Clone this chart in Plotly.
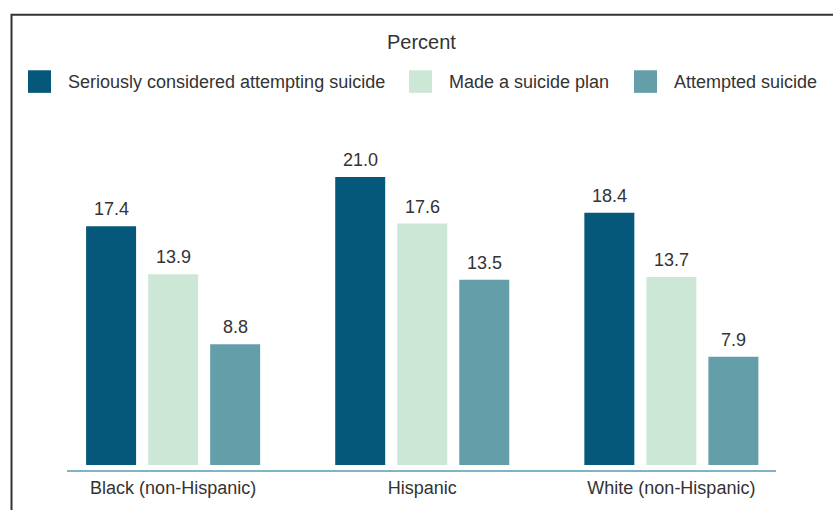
import plotly.graph_objects as go

categories = ["Black (non-Hispanic)", "Hispanic", "White (non-Hispanic)"]
series_names = ["Seriously considered attempting suicide", "Made a suicide plan", "Attempted suicide"]
considered = [17.4, 21.0, 18.4]
plan = [13.9, 17.6, 13.7]
attempted = [8.8, 13.5, 7.9]
colors = ["#06587a", "#cde7d7", "#649fa9"]

W, H = 833, 510
L, R, T, B = 67, 57, 140, 34
PW, PH = W - L - R, H - T - B

def px(x):
    return (x - L) / PW

def py(y):
    return (H - B - y) / PH

values = [considered, plan, attempted]
fig = go.Figure()
for name, vals, c in zip(series_names, values, colors):
    fig.add_trace(go.Bar(x=categories, y=vals, name=name, marker=dict(color=c, line=dict(width=0)),
                         showlegend=False, hoverinfo="x+y"))

font = dict(family="Liberation Sans, Arial, sans-serif", color="#333333")
bargap = 0.253
slot = (1 - bargap) / 3
annotations = []
for j, vals in enumerate(values):
    for i, v in enumerate(vals):
        annotations.append(dict(x=i + (j - 1) * slot, y=v, xref="x", yref="y", text=f"{v:.1f}",
                                showarrow=False, yanchor="middle", yshift=17,
                                font=dict(size=18, **font)))

# title
annotations.append(dict(x=px(421), y=py(40), xref="paper", yref="paper", text="Percent",
                        showarrow=False, xanchor="center", yanchor="middle",
                        font=dict(size=20, **font)))

# manual legend
shapes = []
sw_left = [28, 409, 634]
for name, c, x0 in zip(series_names, colors, sw_left):
    shapes.append(dict(type="rect", xref="paper", yref="paper", x0=px(x0), x1=px(x0 + 23),
                       y0=py(92), y1=py(69), fillcolor=c, line=dict(width=0)))
    annotations.append(dict(x=px(x0 + 38), y=py(81), xref="paper", yref="paper", text=name,
                            showarrow=False, xanchor="left", yanchor="middle",
                            font=dict(size=18, **font)))

# frame
shapes.append(dict(type="rect", xref="paper", yref="paper", x0=px(11.5), x1=px(W + 20),
                   y0=py(H + 20), y1=py(12.5), line=dict(color="#333333", width=2),
                   fillcolor="rgba(0,0,0,0)", layer="below"))

scale = 13.97
zero_off = 5
fig.update_layout(
    width=W, height=H, margin=dict(l=L, r=R, t=T, b=B, pad=0),
    paper_bgcolor="white", plot_bgcolor="white",
    barmode="group", bargap=bargap, bargroupgap=0.194,
    annotations=annotations, shapes=shapes, showlegend=False,
    xaxis=dict(range=[-0.426, 2.42], showline=True, linecolor="#80b3c7", linewidth=2,
               ticks="", showgrid=False, zeroline=False, tickfont=dict(size=18, **font)),
    yaxis=dict(range=[-zero_off / scale, (PH - zero_off) / scale], visible=False, showgrid=False,
               zeroline=False),
)

fig.write_html("out.html", config={"displayModeBar": False},
               post_script="document.body.style.margin='0';document.body.style.overflow='hidden';")
